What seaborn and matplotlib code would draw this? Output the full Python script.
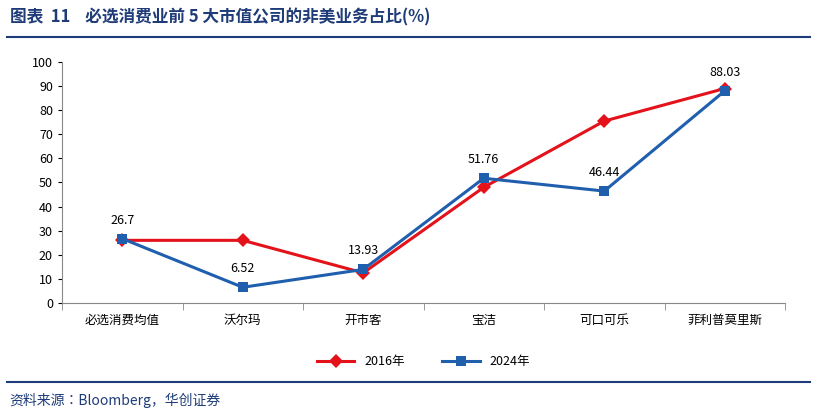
import numpy as np
import pandas as pd
import seaborn as sns
import matplotlib.pyplot as plt

plt.rcParams['font.family'] = ['Noto Sans CJK JP', 'Noto Sans CJK SC', 'Noto Sans CJK KR', 'DejaVu Sans']
plt.rcParams['axes.unicode_minus'] = False

categories = ['必选消费均值', '沃尔玛', '开市客', '宝洁', '可口可乐', '菲利普莫里斯']
values_2016 = [26.0, 26.0, 12.5, 48.0, 75.5, 89.0]
values_2024 = [26.7, 6.52, 13.93, 51.76, 46.44, 88.03]
label_2024 = ['26.7', '6.52', '13.93', '51.76', '46.44', '88.03']

df = pd.DataFrame({
    'cat': categories * 2,
    'val': values_2016 + values_2024,
    'series': ['2016年'] * 6 + ['2024年'] * 6,
})

fig = plt.figure(figsize=(8.18, 4.16), dpi=100)
ax = fig.add_axes([62 / 818, 1 - 303 / 416, (785 - 62) / 818, (303 - 62) / 416])

palette = {'2016年': '#e3121b', '2024年': '#1f5fae'}
markers = {'2016年': 'D', '2024年': 's'}
sns.lineplot(data=df, x='cat', y='val', hue='series', style='series',
             markers=markers, dashes=False, palette=palette, linewidth=2.2,
             markersize=7, markeredgewidth=0, sort=False, ax=ax)

for i, t in enumerate(label_2024):
    ax.text(i, values_2024[i] + 5, t, ha='center', va='bottom', fontsize=9)

ax.set_ylim(0, 100)
ax.set_yticks(range(0, 101, 10))
ax.set_xlim(-0.5, 5.5)
ax.set_xlabel('')
ax.set_ylabel('')
ax.tick_params(labelsize=9, length=3)
ax.tick_params(axis='x', length=0, pad=8)
for s in ['top', 'right']:
    ax.spines[s].set_visible(False)
for s in ['left', 'bottom']:
    ax.spines[s].set_color('#888888')
ax.set_xticks(np.arange(-0.5, 6, 1), minor=True)
ax.tick_params(axis='x', which='minor', length=5, color='#888888')

ax.legend(loc='upper center', bbox_to_anchor=(0.5, -0.17), ncol=2, frameon=False,
          fontsize=9, handlelength=3, columnspacing=3)

fig.text(0.012, 1 - 17 / 416, '图表  11    必选消费业前 5 大市值公司的非美业务占比(%)',
         fontsize=12, fontweight='bold', color='#1f3c78', va='center')
fig.add_artist(plt.Line2D([0.008, 0.99], [1 - 37 / 416] * 2, color='#1f3c78', lw=1.5))
fig.add_artist(plt.Line2D([0.008, 0.99], [1 - 382 / 416] * 2, color='#1f3c78', lw=1.5))
fig.text(0.012, 1 - 400 / 416, '资料来源：Bloomberg，华创证券', fontsize=10,
         style='italic', color='#1f3c78', va='center')

fig.savefig('out.png', dpi=100)
